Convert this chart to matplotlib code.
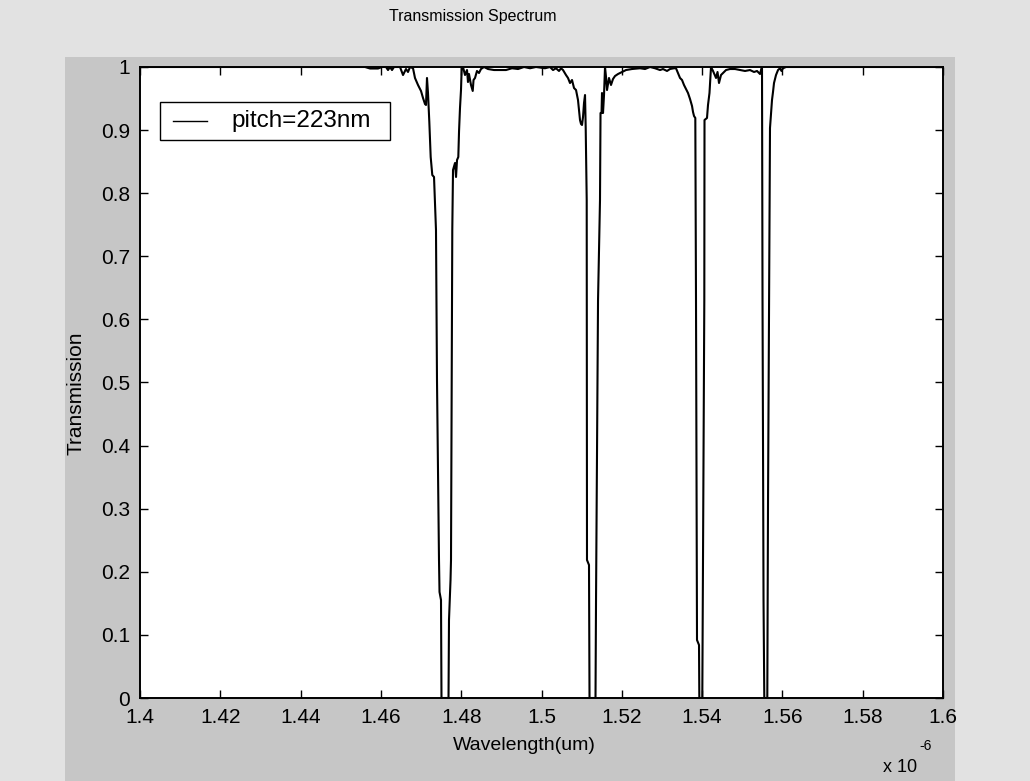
import numpy as np
import matplotlib
matplotlib.use("Agg")
import matplotlib.pyplot as plt
from matplotlib.patches import Rectangle
from matplotlib.lines import Line2D

# Transmission spectrum of the grating, pitch = 223 nm (wavelength in um)
wavelength_um = [
    1.40000, 1.45604, 1.45729, 1.45928, 1.46027, 1.46127, 1.46177, 1.46227,
    1.46277, 1.46326, 1.46476, 1.46551, 1.46625, 1.46675, 1.46725,
    # first stop band
    1.46800, 1.46849, 1.46924, 1.46999, 1.47049, 1.47098, 1.47123, 1.47148,
    1.47173, 1.47206, 1.47240, 1.47280, 1.47323, 1.47372, 1.47397, 1.47447,
    1.47460, 1.47497, 1.47509, 1.47684, 1.47696, 1.47734, 1.47746, 1.47778,
    1.47796, 1.47846, 1.47871, 1.47896, 1.47928, 1.47946, 1.47970, 1.47995,
    1.48013,
    # side lobes
    1.48045, 1.48095, 1.48145, 1.48169, 1.48194, 1.48244, 1.48287, 1.48307,
    1.48344, 1.48393, 1.48443, 1.48493, 1.48568, 1.48668, 1.48817, 1.48967,
    1.49116, 1.49265, 1.49415, 1.49564, 1.49714, 1.49863, 1.50087, 1.50212,
    1.50287, 1.50361, 1.50436, 1.50486,
    # second stop band
    1.50536, 1.50610, 1.50660, 1.50710, 1.50760, 1.50810, 1.50860, 1.50909,
    1.50959, 1.50984, 1.51009, 1.51034, 1.51059, 1.51084, 1.51101, 1.51126,
    1.51133, 1.51183, 1.51196, 1.51345, 1.51358, 1.51408, 1.51457, 1.51470,
    1.51495, 1.51507, 1.51532, 1.51557, 1.51582, 1.51607, 1.51632, 1.51681,
    1.51731, 1.51781, 1.51831, 1.51906, 1.52005, 1.52105, 1.52254, 1.52453,
    1.52578, 1.52703, 1.52827, 1.52952, 1.53026, 1.53126, 1.53201, 1.53300,
    # third stop band
    1.53350, 1.53450, 1.53500, 1.53549, 1.53649, 1.53699, 1.53749, 1.53774,
    1.53799, 1.53831, 1.53848, 1.53873, 1.53923, 1.53931, 1.54005, 1.54023,
    1.54055, 1.54060, 1.54122, 1.54147, 1.54184, 1.54209, 1.54222,
    1.54272, 1.54347, 1.54384, 1.54421, 1.54471, 1.54521, 1.54596, 1.54695,
    1.54820, 1.54944, 1.55069, 1.55193, 1.55293, 1.55368, 1.55442, 1.55480,
    # fourth stop band
    1.55492, 1.55505, 1.55530, 1.55549, 1.55624, 1.55642, 1.55691, 1.55741,
    1.55766, 1.55791, 1.55841, 1.55891, 1.55940, 1.55977, 1.56015, 1.56090,
    1.60000,
]

transmission = [
    1.0000, 1.0000, 0.9976, 0.9976, 1.0000, 1.0000, 0.9952, 1.0000,
    0.9952, 1.0000, 1.0000, 0.9873, 0.9968, 0.9921, 1.0000,
    # first stop band
    0.9980, 0.9826, 0.9715, 0.9620, 0.9509, 0.9414, 0.9398, 0.9826,
    0.9588, 0.9128, 0.8574, 0.8288, 0.8257, 0.7417, 0.5040, 0.2187,
    0.1680, 0.1553, 0.0000, 0.0000, 0.1236, 0.1870, 0.2187, 0.7417,
    0.8368, 0.8479, 0.8257, 0.8526, 0.8574, 0.8980, 0.9350, 0.9635,
    1.0000,
    # side lobes
    1.0000, 0.9873, 0.9952, 0.9762, 0.9889, 0.9715, 0.9620, 0.9794,
    0.9826, 0.9937, 0.9905, 0.9968, 1.0000, 0.9968, 0.9952, 0.9952,
    0.9952, 0.9980, 0.9968, 1.0000, 0.9980, 1.0000, 0.9980, 1.0000,
    0.9952, 0.9980, 0.9937, 0.9980,
    # second stop band
    0.9952, 0.9873, 0.9826, 0.9746, 0.9794, 0.9667, 0.9635, 0.9477,
    0.9160, 0.9097, 0.9081, 0.9208, 0.9430, 0.9556, 0.9033, 0.7892,
    0.2187, 0.2108, 0.0000, 0.0000, 0.1553, 0.6307, 0.7892, 0.9271,
    0.9271, 0.9588, 0.9271, 0.9556, 1.0000, 0.9841, 0.9635, 0.9826,
    0.9715, 0.9810, 0.9857, 0.9889, 0.9921, 0.9952, 0.9968, 0.9980,
    0.9968, 1.0000, 0.9980, 0.9952, 0.9968, 0.9937, 0.9968, 0.9980,
    # third stop band
    0.9980, 0.9826, 0.9794, 0.9715, 0.9588, 0.9493, 0.9382, 0.9287,
    0.9223, 0.9192, 0.6307, 0.0919, 0.0840, 0.0000, 0.0000, 0.2187,
    0.6307, 0.9160, 0.9192, 0.9398, 0.9588, 0.9873, 1.0000,
    0.9937, 0.9826, 0.9921, 0.9746, 0.9873, 0.9905, 0.9952, 0.9968,
    0.9968, 0.9952, 0.9937, 0.9952, 0.9921, 0.9937, 0.9889, 0.9980,
    # fourth stop band
    0.9980, 0.6307, 0.1553, 0.0000, 0.0000, 0.3138, 0.9033, 0.9477,
    0.9604, 0.9746, 0.9873, 0.9952, 0.9980, 0.9937, 0.9980, 1.0000,
    1.0000,
]

x_ticks_um = [1.40, 1.42, 1.44, 1.46, 1.48, 1.50, 1.52, 1.54, 1.56, 1.58, 1.60]
x_tick_labels = ["1.4", "1.42", "1.44", "1.46", "1.48", "1.5",
                 "1.52", "1.54", "1.56", "1.58", "1.6"]
y_ticks = [0, 0.1, 0.2, 0.3, 0.4, 0.5, 0.6, 0.7, 0.8, 0.9, 1.0]
y_tick_labels = ["0", "0.1", "0.2", "0.3", "0.4", "0.5",
                 "0.6", "0.7", "0.8", "0.9", "1"]
series_label = "pitch=223nm"

plt.rcParams["font.family"] = ["Liberation Sans", "DejaVu Sans"]

W, H = 1030, 781
fig = plt.figure(figsize=(W / 100, H / 100), dpi=100)
fig.patch.set_facecolor("#e2e2e2")
# darker window background behind the axes
fig.patches.append(Rectangle((65 / W, 0), (955 - 65) / W, (H - 57) / H,
                             transform=fig.transFigure, facecolor="#c6c6c6",
                             edgecolor="none", zorder=-10))

ax = fig.add_axes([140 / W, 1 - 698 / H, (943 - 140) / W, (698 - 67) / H])
ax.set_zorder(5)
ax.set_facecolor("white")

wl_m = np.array(wavelength_um) * 1e-6
ax.plot(wl_m, transmission, color="black", linewidth=1.5, label=series_label)

ax.set_xlim(1.4e-6, 1.6e-6)
ax.set_ylim(0, 1)
ax.set_xticks(np.array(x_ticks_um) * 1e-6)
ax.set_xticklabels(x_tick_labels)
ax.set_yticks(y_ticks)
ax.set_yticklabels(y_tick_labels)
ax.tick_params(direction="in", length=6, width=1, top=True, right=True,
               labelsize=15, colors="black", pad=7)
for sp in ax.spines.values():
    sp.set_linewidth(1.4)
    sp.set_color("black")

# legend box in the upper-left corner (axes coordinates)
ax.add_patch(Rectangle((0.0249, 0.8843), 0.3113 - 0.0249, 0.9445 - 0.8843,
                       transform=ax.transAxes, facecolor="white",
                       edgecolor="black", linewidth=1.0, zorder=4))
ax.add_line(Line2D([0.0411, 0.0834], [0.9144, 0.9144], transform=ax.transAxes,
                   color="black", linewidth=1.0, zorder=5))
ax.text(0.1133, 0.9144, series_label, transform=ax.transAxes, ha="left",
        va="center", fontsize=17.5, zorder=5)

fig.text(473 / W, 1 - 16 / H, "Transmission Spectrum", ha="center",
         va="center", fontsize=11.5, zorder=6)
fig.text(524 / W, 1 - 745 / H, "Wavelength(um)", ha="center", va="center",
         fontsize=14, zorder=6)
fig.text(76 / W, 1 - 393 / H, "Transmission", ha="center", va="center",
         rotation=90, fontsize=15, zorder=6)
fig.text(900 / W, 1 - 768 / H, "x 10", ha="center", va="center", fontsize=13,
         zorder=6)
fig.text(926 / W, 1 - 746 / H, "-6", ha="center", va="center", fontsize=10,
         zorder=6)

fig.savefig("out.png", dpi=100, facecolor=fig.get_facecolor())
